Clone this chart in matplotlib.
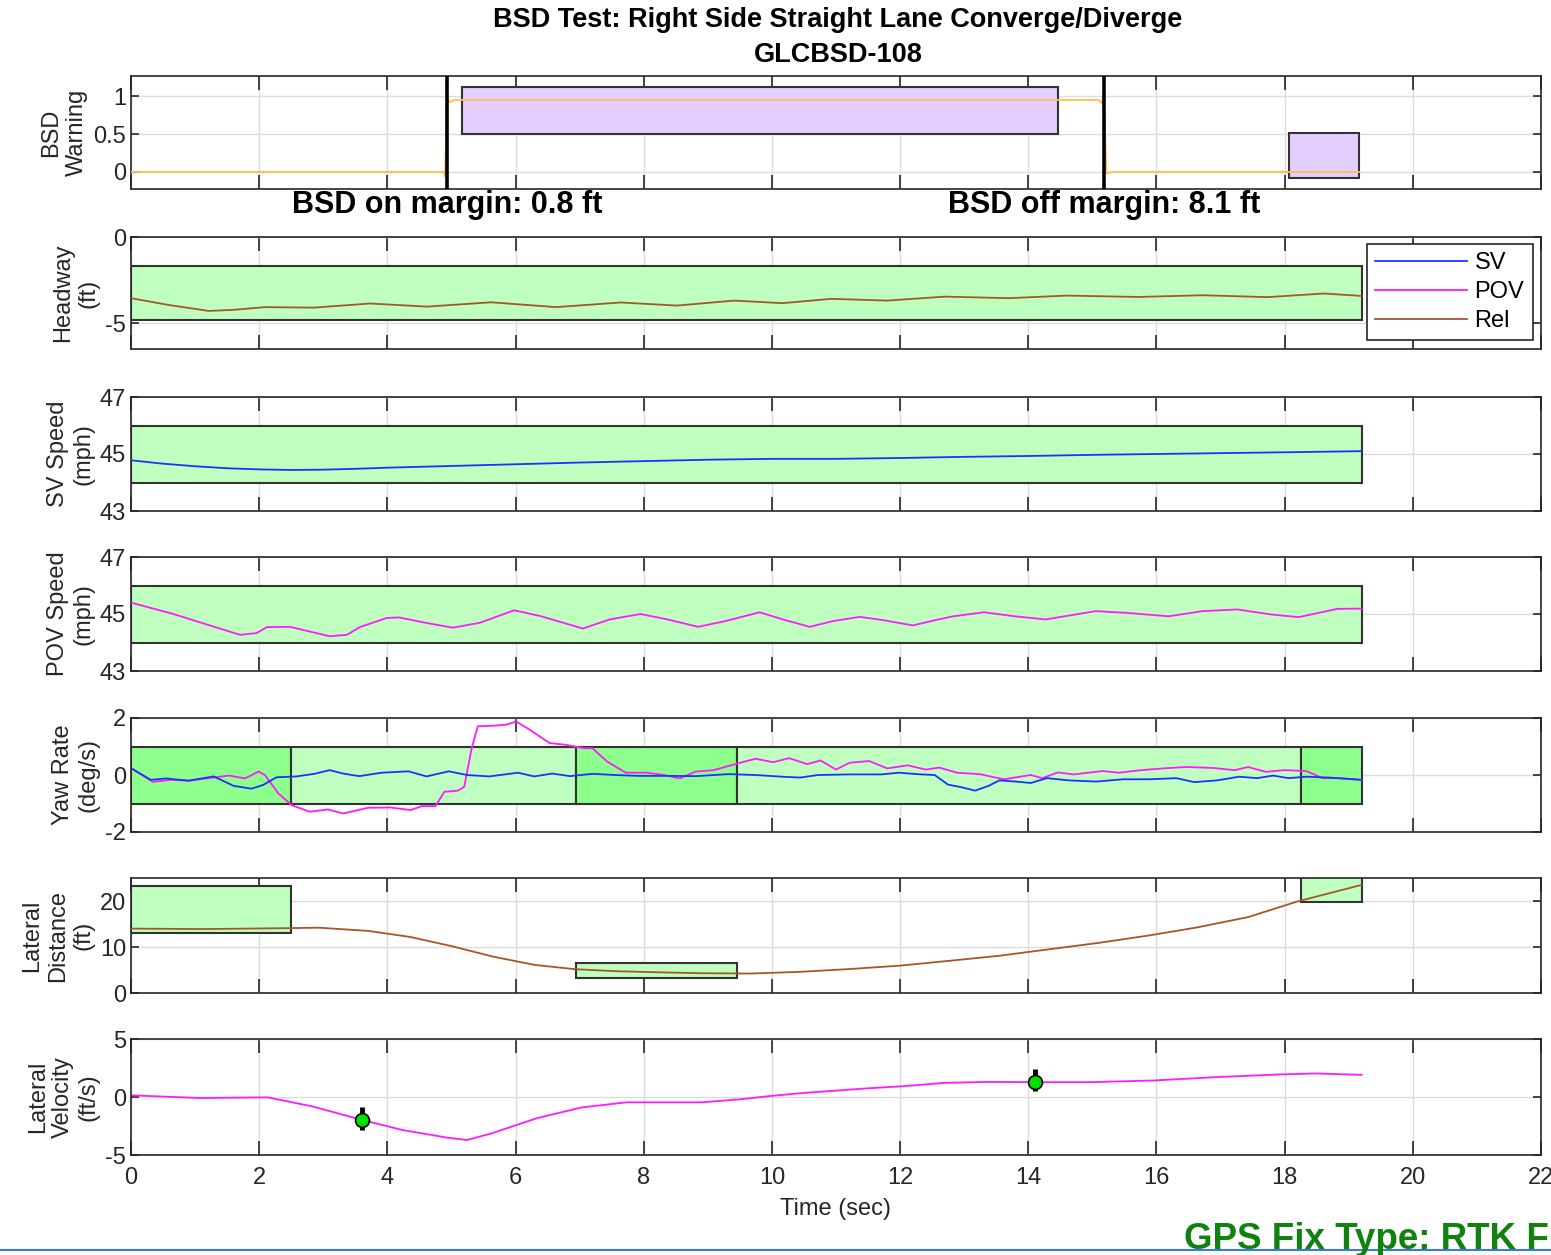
import matplotlib
matplotlib.use('Agg')
import matplotlib.pyplot as plt
from matplotlib.patches import Rectangle
from matplotlib.lines import Line2D

plt.rcParams['font.family'] = ['Liberation Sans', 'DejaVu Sans']
plt.rcParams['axes.unicode_minus'] = False

# ---- data ----
bsd_t = [0, 4.88, 4.9, 4.93, 4.97, 5.05, 15.1, 15.14, 15.18, 15.22, 15.3, 19.16]
bsd_v = [0, 0, -0.06, 0.97, 0.92, 0.95, 0.95, 0.91, 0.98, -0.02, 0.0, 0.0]
bsd_on_time = 4.93
bsd_off_time = 15.18
warn_x0 = [5.16, 18.07]
warn_x1 = [14.46, 19.16]
warn_y0 = [0.5, -0.08]
warn_y1 = [1.12, 0.52]

head_t = [0, 0.58, 1.21, 1.59, 2.09, 2.85, 3.73, 4.62, 5.62, 6.63, 7.64, 8.52,
          9.41, 10.16, 10.92, 11.8, 12.7, 13.7, 14.6, 15.71, 16.72, 17.73, 18.61, 19.2]
head_rel = [-3.55, -3.94, -4.29, -4.23, -4.07, -4.1, -3.86, -4.04, -3.79, -4.07, -3.8, -3.98,
            -3.69, -3.84, -3.59, -3.69, -3.46, -3.55, -3.4, -3.48, -3.38, -3.49, -3.28, -3.42]

sv_t = [0, 0.5, 1, 1.5, 2, 2.5, 3, 3.5, 4, 5, 6, 7, 8, 9, 10, 11, 12, 13, 14, 15, 16, 17, 18, 19.2]
sv_speed = [44.78, 44.66, 44.57, 44.5, 44.46, 44.44, 44.45, 44.48, 44.52, 44.58, 44.64, 44.7,
            44.75, 44.8, 44.83, 44.83, 44.86, 44.9, 44.93, 44.97, 45.0, 45.03, 45.06, 45.1]

pov_t = [0, 0.66, 1.3, 1.7, 1.96, 2.12, 2.48, 3.1, 3.37, 3.57, 3.99, 4.18, 4.6, 5.02, 5.44,
         5.98, 6.4, 7.05, 7.47, 7.95, 8.37, 8.85, 9.27, 9.81, 10.17, 10.59, 10.95, 11.37,
         11.72, 12.2, 12.56, 12.83, 13.31, 13.79, 14.27, 15.05, 15.53, 16.19, 16.72, 17.26,
         17.8, 18.22, 18.82, 19.2]
pov_speed = [45.4, 45.0, 44.55, 44.27, 44.33, 44.54, 44.55, 44.22, 44.27, 44.54, 44.86, 44.88,
             44.69, 44.52, 44.69, 45.13, 44.92, 44.49, 44.81, 45.0, 44.81, 44.55, 44.75, 45.06,
             44.81, 44.55, 44.75, 44.9, 44.79, 44.6, 44.79, 44.92, 45.06, 44.92, 44.81, 45.1,
             45.04, 44.92, 45.1, 45.16, 44.98, 44.89, 45.18, 45.19]

yaw_sv_t = [0.03, 0.31, 0.55, 0.9, 1.29, 1.6, 1.88, 2.06, 2.27, 2.58, 2.86, 3.1, 3.31, 3.56,
            3.91, 4.33, 4.61, 4.96, 5.24, 5.59, 6.04, 6.29, 6.57, 6.85, 7.2, 7.55, 7.9, 8.32,
            8.81, 9.32, 9.74, 10.16, 10.44, 10.72, 11.21, 11.7, 11.98, 12.33, 12.54, 12.75,
            12.96, 13.17, 13.38, 13.55, 13.8, 14.04, 14.29, 14.64, 15.06, 15.48, 15.9, 16.31,
            16.59, 16.94, 17.29, 17.57, 17.82, 18.06, 18.34, 18.69, 19.2]
yaw_sv = [0.2, -0.17, -0.12, -0.2, -0.05, -0.38, -0.48, -0.35, -0.08, -0.05, 0.04, 0.17, 0.05,
          -0.04, 0.08, 0.13, -0.05, 0.13, 0.0, -0.05, 0.08, -0.05, 0.05, -0.04, 0.04, 0.0, -0.03,
          -0.03, -0.04, 0.03, 0.0, -0.06, -0.09, 0.0, 0.02, 0.02, 0.08, 0.02, 0.0, -0.34,
          -0.43, -0.55, -0.38, -0.19, -0.23, -0.28, -0.11, -0.19, -0.23, -0.15, -0.15, -0.11,
          -0.25, -0.19, -0.06, -0.11, -0.02, -0.11, -0.06, -0.09, -0.17]

yaw_pov_t = [0.03, 0.34, 0.62, 0.9, 1.18, 1.53, 1.78, 1.99, 2.09, 2.3, 2.51, 2.79, 3.07, 3.31,
             3.7, 4.05, 4.36, 4.54, 4.75, 4.89, 5.1, 5.2, 5.31, 5.41, 5.66, 5.87, 6.01, 6.22,
             6.53, 6.78, 7.07, 7.2, 7.43, 7.72, 8.04, 8.32, 8.56, 8.81, 9.09, 9.46, 9.74, 10.02,
             10.27, 10.55, 10.76, 11.0, 11.21, 11.52, 11.8, 12.12, 12.4, 12.61, 12.89, 13.24,
             13.62, 14.04, 14.22, 14.46, 14.71, 15.16, 15.41, 15.76, 16.1, 16.45, 16.87, 17.22,
             17.43, 17.71, 17.99, 18.34, 18.59, 18.83, 19.2]
yaw_pov = [0.2, -0.24, -0.17, -0.2, -0.12, -0.02, -0.12, 0.12, 0.0, -0.65, -1.06, -1.29, -1.21,
           -1.35, -1.15, -1.14, -1.23, -1.09, -1.09, -0.59, -0.55, -0.41, 0.88, 1.71, 1.73, 1.77,
           1.88, 1.59, 1.12, 1.06, 0.94, 0.94, 0.47, 0.08, 0.08, 0.0, -0.12, 0.12, 0.17, 0.4,
           0.57, 0.45, 0.59, 0.38, 0.51, 0.19, 0.43, 0.49, 0.23, 0.34, 0.19, 0.26, 0.08, 0.03,
           -0.15, 0.0, -0.11, 0.09, 0.02, 0.14, 0.08, 0.17, 0.23, 0.28, 0.25, 0.17, 0.28, 0.11,
           0.17, 0.14, -0.11, -0.11, -0.17]
yaw_edges = [0, 2.5, 6.95, 9.45, 18.25, 19.2]
yaw_dark = [True, False, True, False, True]

lat_t = [0, 1.11, 2.47, 2.93, 3.7, 4.35, 5.0, 5.65, 6.3, 6.94, 7.59, 8.24, 8.89, 9.66,
         10.44, 11.2, 12.0, 12.77, 13.55, 14.3, 15.1, 15.88, 16.65, 17.43, 18.2, 19.2]
lat_dist = [14.0, 13.9, 14.1, 14.2, 13.5, 12.2, 10.2, 7.9, 6.1, 5.16, 4.73, 4.5, 4.3, 4.23,
            4.6, 5.2, 5.95, 7.0, 8.1, 9.46, 10.9, 12.5, 14.3, 16.5, 19.9, 23.5]
lat_x0 = [0, 6.95, 18.25]
lat_x1 = [2.5, 9.45, 19.2]
lat_y0 = [13.1, 3.2, 19.7]
lat_y1 = [23.2, 6.5, 26]

vel_t = [0.03, 1.08, 2.13, 2.83, 3.6, 4.23, 4.93, 5.24, 5.63, 6.33, 7.03, 7.73, 8.9, 9.5,
         10.0, 10.5, 11.0, 11.5, 12.05, 12.7, 13.35, 14.11, 14.97, 15.95, 16.92, 17.9,
         18.48, 19.2]
lat_vel = [0.14, -0.09, -0.03, -0.81, -1.97, -2.84, -3.5, -3.71, -3.13, -1.83, -0.9, -0.46,
           -0.46, -0.2, 0.1, 0.35, 0.55, 0.75, 0.93, 1.22, 1.3, 1.28, 1.28, 1.42, 1.71, 1.94,
           2.03, 1.91]
mark_t = [3.6, 14.11]
mark_v = [-1.97, 1.28]
mark_lo = [-2.85, 0.55]
mark_hi = [-0.9, 2.45]

xticks = list(range(0, 23, 2))

LIGHT = '#bfffbf'
DARK = '#8cff8c'
PURPLE = '#e3ceff'
BLUE = '#1a33ff'
MAGENTA = '#ff1aff'
BROWN = '#a5562a'
INK = '#262626'


def add_box(ax, x0, x1, y0, y1, color):
    ax.add_patch(Rectangle((x0, y0), x1 - x0, y1 - y0, facecolor=color,
                           edgecolor='#333333', lw=1.5, zorder=1))


fig = plt.figure(figsize=(15.51, 12.55), dpi=100)
W, H = 1551.0, 1255.0
rows = [(76, 189), (237, 349), (397, 511), (557, 671), (718, 832), (878, 993), (1039, 1155)]
axes = []
for top, bot in rows:
    ax = fig.add_axes([131 / W, 1 - bot / H, 1410 / W, (bot - top) / H])
    ax.set_xlim(0, 22)
    ax.set_xticks(xticks)
    ax.grid(True, color='#dcdcdc', lw=1)
    ax.set_axisbelow(True)
    ax.tick_params(direction='in', top=True, right=True, labelsize=17, width=1.2,
                   colors=INK, labelcolor=INK)
    ax.tick_params(axis='x', length=10, pad=9)
    ax.tick_params(axis='y', length=6)
    for s in ax.spines.values():
        s.set_color(INK)
        s.set_linewidth(1.2)
    if len(axes) < 6:
        ax.set_xticklabels([])
    axes.append(ax)

ax1, ax2, ax3, ax4, ax5, ax6, ax7 = axes

# BSD warning
for i in range(len(warn_x0)):
    add_box(ax1, warn_x0[i], warn_x1[i], warn_y0[i], warn_y1[i], PURPLE)
ax1.plot(bsd_t, bsd_v, color='#ffbf4d', lw=1.3, zorder=3)
ax1.axvline(bsd_on_time, color='black', lw=2.6, zorder=4)
ax1.axvline(bsd_off_time, color='black', lw=2.6, zorder=4)
ax1.set_ylim(-0.225, 1.265)
ax1.set_yticks([0, 0.5, 1])
ax1.set_yticklabels(['0', '0.5', '1'])
ax1.set_ylabel('BSD\nWarning', fontsize=17, color=INK)
ax1.text(bsd_on_time, -0.14, 'BSD on margin: 0.8 ft', transform=ax1.get_xaxis_transform(),
         ha='center', va='center', fontsize=22, fontweight='bold')
ax1.text(bsd_off_time, -0.14, 'BSD off margin: 8.1 ft', transform=ax1.get_xaxis_transform(),
         ha='center', va='center', fontsize=22, fontweight='bold')

# Headway
add_box(ax2, 0, 19.2, -4.83, -1.67, LIGHT)
ax2.plot(head_t, head_rel, color=BROWN, lw=1.3, zorder=3)
ax2.set_ylim(-6.5, 0)
ax2.set_yticks([-5, 0])
ax2.set_ylabel('Headway\n(ft)', fontsize=17, color=INK)
handles = [Line2D([], [], color=BLUE, lw=1.3), Line2D([], [], color=MAGENTA, lw=1.3),
           Line2D([], [], color=BROWN, lw=1.3)]
leg = ax2.legend(handles, ['SV', 'POV', 'Rel'], loc='upper right', bbox_to_anchor=(0.994, 0.94),
                 fontsize=17, handlelength=3.9, handletextpad=0.3, labelspacing=0.3,
                 borderpad=0.35, fancybox=False, framealpha=1, edgecolor=INK, borderaxespad=0)
leg.get_frame().set_linewidth(1.2)

# SV speed
add_box(ax3, 0, 19.2, 44, 46, LIGHT)
ax3.plot(sv_t, sv_speed, color=BLUE, lw=1.3, zorder=3)
ax3.set_ylim(43, 47)
ax3.set_yticks([43, 45, 47])
ax3.set_ylabel('SV Speed\n(mph)', fontsize=17, color=INK)

# POV speed
add_box(ax4, 0, 19.2, 44, 46, LIGHT)
ax4.plot(pov_t, pov_speed, color=MAGENTA, lw=1.3, zorder=3)
ax4.set_ylim(43, 47)
ax4.set_yticks([43, 45, 47])
ax4.set_ylabel('POV Speed\n(mph)', fontsize=17, color=INK)

# Yaw rate
for i in range(len(yaw_dark)):
    add_box(ax5, yaw_edges[i], yaw_edges[i + 1], -1, 1, DARK if yaw_dark[i] else LIGHT)
ax5.plot(yaw_pov_t, yaw_pov, color=MAGENTA, lw=1.3, zorder=3)
ax5.plot(yaw_sv_t, yaw_sv, color=BLUE, lw=1.3, zorder=3)
ax5.set_ylim(-2, 2)
ax5.set_yticks([-2, 0, 2])
ax5.set_ylabel('Yaw Rate\n(deg/s)', fontsize=17, color=INK)

# Lateral distance
for i in range(len(lat_x0)):
    add_box(ax6, lat_x0[i], lat_x1[i], lat_y0[i], lat_y1[i], LIGHT)
ax6.plot(lat_t, lat_dist, color=BROWN, lw=1.3, zorder=3)
ax6.set_ylim(0, 25)
ax6.set_yticks([0, 10, 20])
ax6.set_ylabel('Lateral\nDistance\n(ft)', fontsize=17, color=INK)

# Lateral velocity
ax7.plot(vel_t, lat_vel, color=MAGENTA, lw=1.3, zorder=3)
ax7.vlines(mark_t, mark_lo, mark_hi, color='black', lw=3.5, zorder=4)
ax7.plot(mark_t, mark_v, 'o', color='#00e000', mec='black', mew=1.2, ms=10, zorder=5)
ax7.set_ylim(-5, 5)
ax7.set_yticks([-5, 0, 5])
ax7.set_ylabel('Lateral\nVelocity\n(ft/s)', fontsize=17, color=INK)
ax7.set_xlabel('Time (sec)', fontsize=17, color=INK, labelpad=6)

fig.text(838 / W, 1 - 20 / H, 'BSD Test: Right Side Straight Lane Converge/Diverge',
         ha='center', va='center', fontsize=19.5, fontweight='bold')
fig.text(838 / W, 1 - 55 / H, 'GLCBSD-108', ha='center', va='center', fontsize=19.5,
         fontweight='bold')
fig.text(1549 / W, 1 - 1249 / H, 'GPS Fix Type: RTK F', ha='right', va='baseline',
         fontsize=26.5, fontweight='bold', color='#0f820f')
fig.add_artist(Line2D([0, 1], [1 - 1250 / H, 1 - 1250 / H], transform=fig.transFigure,
                      color='#3c7dc8', lw=1.5))

plt.savefig('out.png', dpi=100)
plt.close()
